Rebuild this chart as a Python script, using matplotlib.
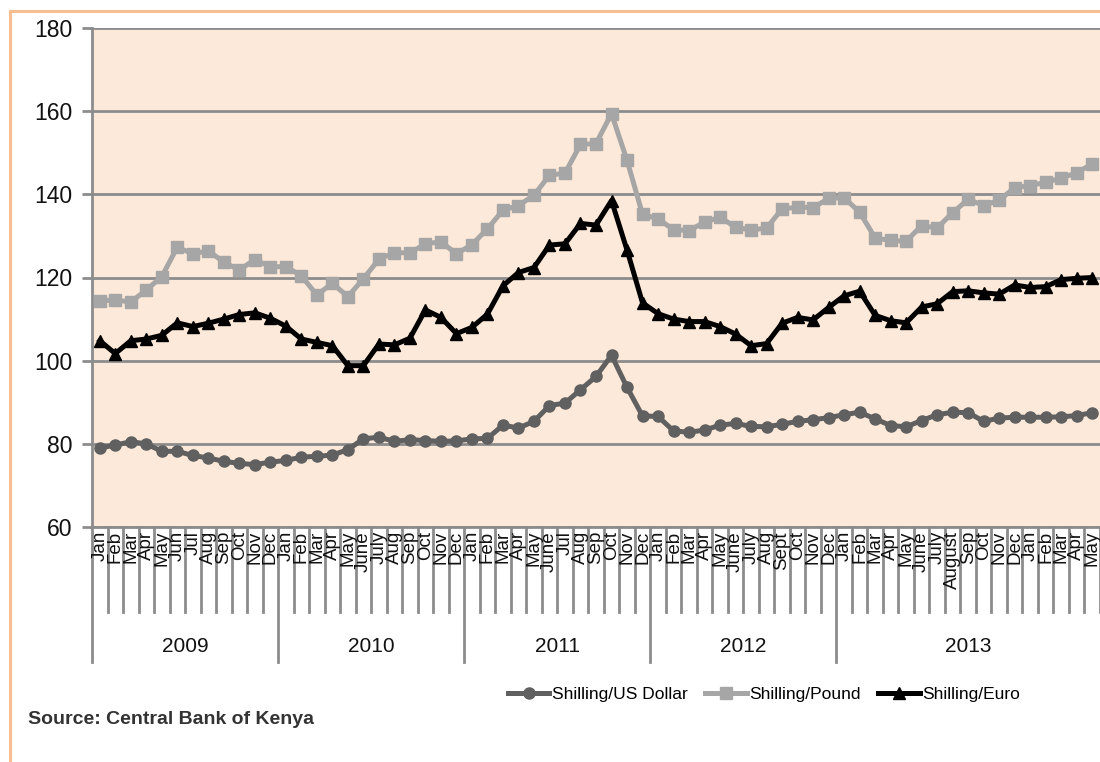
import matplotlib
matplotlib.use("Agg")
import matplotlib.pyplot as plt
from matplotlib import font_manager
from matplotlib.patches import Rectangle
import matplotlib.transforms as mtransforms

names = {f.name for f in font_manager.fontManager.ttflist}
NARROW = "Liberation Sans Narrow" if "Liberation Sans Narrow" in names else "Liberation Sans"
plt.rcParams['font.family'] = [NARROW, 'DejaVu Sans']

years = ["2009", "2010", "2011", "2012", "2013"]
year_sizes = [12, 12, 12, 12, 17]
months = [
    "Jan", "Feb", "Mar", "Apr", "May", "Jun", "Jul", "Aug", "Sep", "Oct", "Nov", "Dec",
    "Jan", "Feb", "Mar", "Apr", "May", "June", "July", "Aug", "Sep", "Oct", "Nov", "Dec",
    "Jan", "Feb", "Mar", "Apr", "May", "June", "Jul", "Aug", "Sep", "Oct", "Nov", "Dec",
    "Jan", "Feb", "Mar", "Apr", "May", "June", "July", "Aug", "Sept", "Oct", "Nov", "Dec",
    "Jan", "Feb", "Mar", "Apr", "May", "June", "July", "August", "Sep", "Oct", "Nov", "Dec",
    "Jan", "Feb", "Mar", "Apr", "May",
]

usd = [
    79.0, 79.7, 80.5, 80.0, 78.2, 78.2, 77.2, 76.6, 75.8, 75.3, 75.0, 75.6,
    76.0, 76.8, 77.0, 77.3, 78.6, 81.2, 81.6, 80.6, 81.0, 80.8, 80.6, 80.7,
    81.2, 81.3, 84.5, 83.8, 85.4, 89.2, 89.8, 93.0, 96.2, 101.3, 93.6, 86.7,
    86.6, 83.1, 82.8, 83.3, 84.5, 84.9, 84.2, 84.1, 84.7, 85.4, 85.8, 86.3,
    87.0, 87.6, 86.0, 84.4, 84.1, 85.6, 87.0, 87.6, 87.5, 85.4, 86.2, 86.4,
    86.4, 86.4, 86.5, 86.8, 87.5,
]
gbp = [
    114.4, 114.6, 114.1, 117.0, 120.2, 127.3, 125.7, 126.4, 123.7, 121.8, 124.3, 122.6,
    122.6, 120.4, 115.8, 118.6, 115.4, 119.7, 124.4, 126.0, 125.9, 128.1, 128.6, 125.7,
    127.9, 131.7, 136.2, 137.3, 139.8, 144.6, 145.1, 152.0, 152.2, 159.4, 148.2, 135.2,
    134.1, 131.5, 131.3, 133.3, 134.5, 132.1, 131.4, 131.9, 136.5, 136.9, 136.8, 139.0,
    139.2, 135.7, 129.5, 128.9, 128.7, 132.5, 131.9, 135.6, 138.8, 137.3, 138.6, 141.6,
    142.1, 142.9, 143.9, 145.2, 147.3,
]
eur = [
    104.8, 101.7, 104.8, 105.2, 106.1, 109.1, 108.2, 109.0, 110.0, 111.1, 111.5, 110.2,
    108.3, 105.2, 104.4, 103.6, 98.8, 98.8, 104.0, 103.8, 105.4, 112.2, 110.4, 106.5,
    108.0, 111.2, 118.0, 121.2, 122.4, 127.8, 128.1, 133.0, 132.6, 138.5, 126.6, 113.9,
    111.3, 110.0, 109.4, 109.4, 108.2, 106.4, 103.6, 104.1, 109.0, 110.4, 109.8, 112.8,
    115.6, 116.7, 110.9, 109.6, 109.1, 112.9, 113.7, 116.6, 116.8, 116.3, 116.0, 118.2,
    117.6, 117.8, 119.5, 119.8, 120.0,
]

W, H = 1100, 762
fig = plt.figure(figsize=(W / 100, H / 100), dpi=100)
fig.patch.set_facecolor("white")

# outer orange frame
fig.add_artist(Rectangle((9.5 / W, -0.05), 1.2, 1.05 - 11.5 / H, transform=fig.transFigure,
                         fill=False, edgecolor="#f7be92", linewidth=2.2))

ax_l, ax_r, ax_t, ax_b = 92, 1100, 28, 527
ax = fig.add_axes([ax_l / W, 1 - ax_b / H, (ax_r - ax_l) / W, (ax_b - ax_t) / H])
ax.set_facecolor("#fde9d9")

n = len(months)
xs = [i + 0.5 for i in range(n)]
ax.plot(xs, usd, color="#606060", lw=3.6, marker="o", ms=8, label="Shilling/US Dollar", zorder=3)
ax.plot(xs, gbp, color="#a6a6a6", lw=3.6, marker="s", ms=8, label="Shilling/Pound", zorder=3)
ax.plot(xs, eur, color="#000000", lw=3.6, marker="^", ms=8.5, label="Shilling/Euro", zorder=4)

ax.set_xlim(0, n)
ax.set_ylim(60, 180)
ax.set_yticks(range(60, 181, 20))
ax.yaxis.grid(True, color="#8c8c8c", lw=2)
ax.set_axisbelow(True)
for s in ["top", "right", "bottom"]:
    ax.spines[s].set_visible(False)
ax.spines["left"].set_color("#8c8c8c")
ax.spines["left"].set_linewidth(2)
ax.tick_params(axis="y", length=7, width=2, color="#8c8c8c", labelsize=16.5, pad=7)
ax.set_xticks([])
for lab in ax.get_yticklabels():
    lab.set_color("#111111")

# category axis: month labels, separators, year groups
trans = mtransforms.blended_transform_factory(ax.transData, ax.transAxes)
ah = ax_b - ax_t
sep_short = -85 / ah
sep_long = -135 / ah
ax.plot([0, n], [0, 0], transform=trans, color="#8c8c8c", lw=2, clip_on=False)
for i, m in enumerate(months):
    ax.text(i + 0.5, -4 / ah, m, transform=trans, rotation=90, ha="center", va="top",
            fontsize=13.5, color="#111111")
year_starts = [sum(year_sizes[:k]) for k in range(len(year_sizes))]
for i in range(n + 1):
    long = i in year_starts or i == 0
    ax.plot([i, i], [0, sep_long if long else sep_short], transform=trans,
            color="#8c8c8c", lw=2, clip_on=False)
for y, st, sz in zip(years, year_starts, year_sizes):
    ax.text(st + sz / 2, -120 / ah, y, transform=trans, ha="center", va="center",
            fontsize=15, color="#111111")

leg = fig.legend(loc="center", bbox_to_anchor=(764 / W, 1 - 694 / H), ncol=3, frameon=False,
                 fontsize=12.5, handlelength=2.4, handletextpad=0.15, columnspacing=1.0)

fig.text(28 / W, 1 - 719 / H, "Source: Central Bank of Kenya", fontsize=14, fontweight="bold",
         color="#333333", ha="left", va="center")

fig.savefig("out.png", dpi=100)
